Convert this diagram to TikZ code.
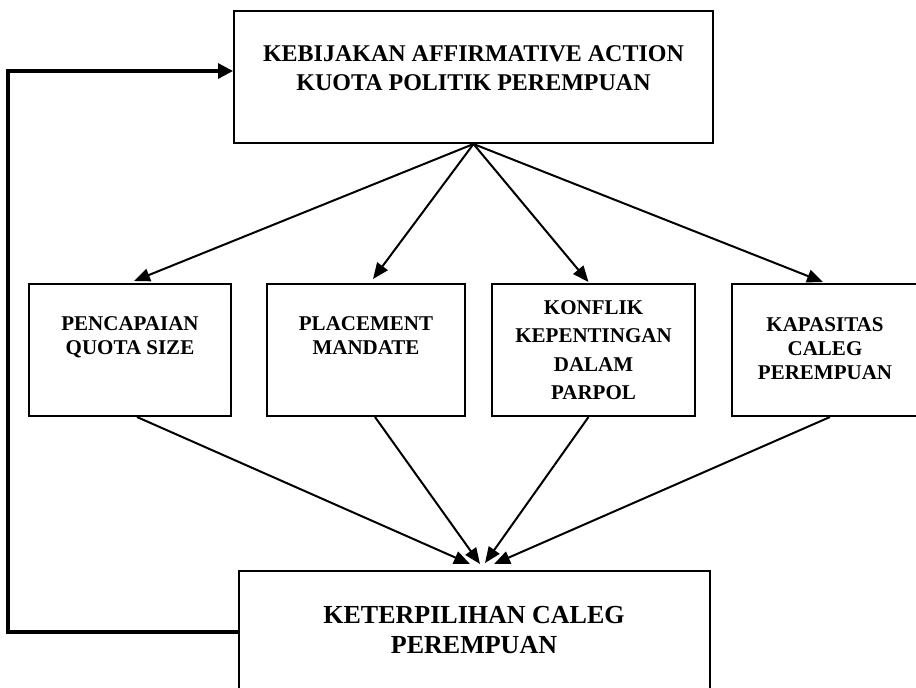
\documentclass[tikz,border=0pt]{standalone}
\usepackage{fontspec}
\setmainfont{Liberation Serif}
\usetikzlibrary{arrows.meta,calc}

\begin{document}
\begin{tikzpicture}[x=0.5pt,y=-0.5pt,
        kotak/.style={draw, line width=1pt, inner sep=0pt, minimum height=66pt},
        teks/.style={align=center, inner sep=0pt, font=\fontsize{10.5}{12}\selectfont\bfseries},
        panah/.style={line width=1pt, -{Triangle[length=8pt,width=6.5pt]}},
        umpan/.style={line width=1.6pt, -{Triangle[length=7.5pt,width=7.5pt]}}]
        \useasboundingbox (0,0) rectangle (916,687);
        \clip (0,0) rectangle (916,687);
        % Top box
        \node[kotak, minimum width=239.5pt] (kebijakan) at (473.5,77) {};
        \node[teks, font=\fontsize{12}{14.2}\selectfont\bfseries] (kebijakantxt) at (473.5,68)
            {KEBIJAKAN AFFIRMATIVE ACTION\\KUOTA POLITIK PEREMPUAN};
        % Middle boxes
        \node[kotak, minimum width=101pt] (quota) at (130,350) {};
        \node[kotak, minimum width=99pt] (mandate) at (366,350) {};
        \node[kotak, minimum width=101.5pt] (konflik) at (593.5,350) {};
        \node[kotak, minimum width=93pt] (kapasitas) at (825,350) {};
        \node[teks] (quotatxt) at (130,337) {PENCAPAIAN\\QUOTA SIZE};
        \node[teks] (mandatetxt) at (366,335.5) {PLACEMENT\\MANDATE};
        \node[teks, font=\fontsize{10.5}{14.2}\selectfont\bfseries] (konfliktxt) at (593.5,350)
            {KONFLIK\\KEPENTINGAN\\DALAM\\PARPOL};
        \node[teks] (kapasitastxt) at (825,349) {KAPASITAS\\CALEG\\PEREMPUAN};
        % Bottom box
        \node[kotak, minimum width=235.5pt, minimum height=67pt] (keterpilihan) at (474.5,638) {};
        \node[teks, font=\fontsize{13}{15}\selectfont\bfseries] (keterpilihantxt) at (474,630)
            {KETERPILIHAN CALEG\\PEREMPUAN};
        % Arrows down
        \draw[panah] (kebijakan.south) -- ($(quota.north)+(4,-2)$);
        \draw[panah] (kebijakan.south) -- ($(mandate.north)+(7,-4)$);
        \draw[panah] (kebijakan.south) -- ($(konflik.north)+(-5,-1)$);
        \draw[panah] (kebijakan.south) -- ($(kapasitas.north)+(-2,-1)$);
        \coordinate (ujung1) at (470,564);
        \coordinate (ujung2) at (480,564);
        \coordinate (ujung3) at (485,563);
        \coordinate (ujung4) at (494,564);
        \draw[panah] ($(quota.south)+(7,0)$) -- (ujung1);
        \draw[panah] ($(mandate.south)+(9,0)$) -- (ujung2);
        \draw[panah] ($(konflik.south)+(-5,0)$) -- (ujung3);
        \draw[panah] ($(kapasitas.south)+(5,0)$) -- (ujung4);
        % Feedback
        \coordinate (kiribawah) at (8,632);
        \coordinate (kiriatas) at (8,71);
        \draw[umpan] ($(keterpilihan.west)+(0,-6)$) -- (kiribawah) -- (kiriatas)
            -- ($(kebijakan.west)+(0,-6)$);
    \end{tikzpicture}
\end{document}
